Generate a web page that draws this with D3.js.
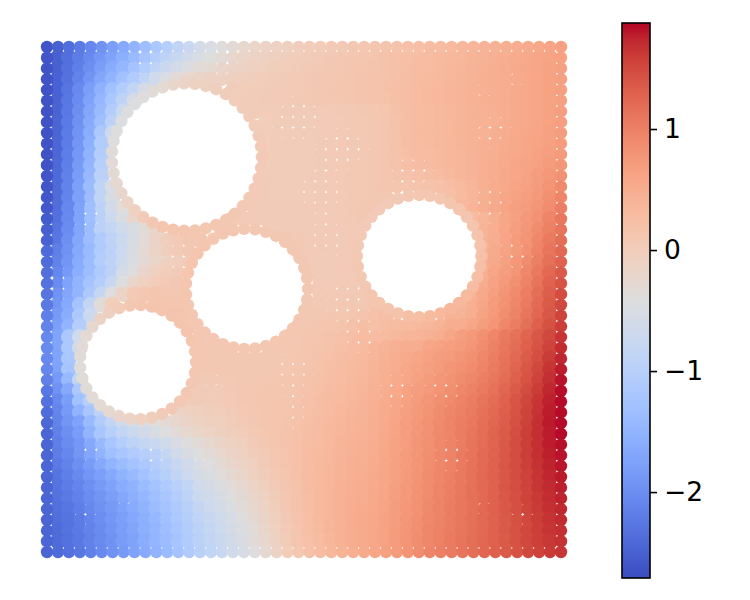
<!DOCTYPE html>
<html><head><meta charset="utf-8">
<script src="https://cdnjs.cloudflare.com/ajax/libs/d3/7.8.5/d3.min.js"></script>
<style>html,body{margin:0;padding:0;background:#fff}svg{display:block}</style>
</head><body><svg id="c" width="750" height="600"></svg>
<script>
// field values in hundredths, 48 rows (top to bottom) x 48 columns
const fieldRows = [
[-262,-250,-236,-222,-208,-194,-180,-165,-150,-134,-118,-102,-88,-74,-60,-49,-40,-31,-24,-18,-13,-9,-6,-3,0,2,4,6,8,10,12,15,18,21,23,26,29,32,35,38,41,44,47,50,53,56,60,64],
[-262,-250,-235,-220,-205,-189,-173,-157,-140,-123,-106,-90,-76,-63,-51,-41,-32,-24,-18,-13,-9,-5,-3,0,2,4,6,8,10,12,14,17,20,22,24,27,30,33,36,39,42,45,48,51,54,57,61,65],
[-263,-250,-234,-217,-199,-181,-163,-145,-126,-107,-89,-73,-59,-47,-37,-29,-22,-16,-12,-8,-5,-2,0,2,4,6,8,10,12,14,16,18,20,23,26,29,32,35,38,41,44,47,50,53,56,59,62,66],
[-263,-249,-232,-213,-192,-170,-150,-130,-110,-88,-66,-48,-34,-24,-17,-12,-9,-6,-4,-2,0,2,3,5,6,8,10,11,13,15,17,19,21,24,27,30,33,36,39,42,45,48,50,52,55,58,62,66],
[-264,-248,-228,-205,-180,-153,-130,-108,-84,-58,-34,-20,-12,-8,-5,-3,-2,-1,0,1,2,3,4,5,6,8,10,12,14,16,18,20,22,25,28,31,34,37,40,43,45,47,49,52,55,58,62,66],
[-264,-247,-226,-202,-175,-146,-118,-90,-58,-34,-20,-12,-8,-5,-3,-2,-1,0,1,2,3,4,5,6,7,8,10,11,13,15,17,19,22,25,28,31,34,37,40,43,45,47,49,52,55,58,62,66],
[-264,-246,-224,-199,-170,-140,-108,-72,-46,-25,-15,0,0,0,0,0,0,-1,0,1,2,2,3,3,3,4,5,6,7,9,11,14,20,25,27,30,33,36,39,42,44,46,49,52,55,58,62,67],
[-264,-245,-222,-196,-165,-132,-95,-58,0,0,0,0,0,0,0,0,0,0,0,0,0,1,1,2,2,3,4,5,6,7,9,13,19,24,27,30,33,36,39,42,44,46,49,52,55,59,63,67],
[-264,-245,-221,-193,-161,-115,-70,-45,0,0,0,0,0,0,0,0,0,0,0,0,0,1,1,2,2,3,4,5,6,7,9,13,19,24,27,30,33,36,39,42,44,47,50,53,56,60,64,68],
[-264,-244,-220,-190,-156,-108,-62,-40,0,0,0,0,0,0,0,0,0,0,0,0,0,1,1,2,2,3,4,5,6,7,9,13,19,24,27,30,33,36,39,42,45,48,51,54,57,61,65,70],
[-264,-243,-219,-188,-152,-105,-55,-38,0,0,0,0,0,0,0,0,0,0,0,0,0,1,1,2,2,3,4,5,6,7,9,13,18,23,26,29,32,35,38,41,45,48,52,55,59,63,67,72],
[-263,-242,-217,-185,-148,-100,-50,-34,0,0,0,0,0,0,0,0,0,0,0,0,0,1,1,2,2,3,4,5,6,7,9,13,18,23,26,29,32,35,38,41,45,49,53,57,61,65,70,76],
[-262,-241,-215,-182,-143,-95,-48,-32,0,0,0,0,0,0,0,0,0,0,2,1,1,1,1,2,2,3,4,5,6,7,9,12,15,18,21,24,28,32,37,41,46,50,54,58,62,68,75,82],
[-261,-240,-213,-179,-138,-88,-48,-30,0,0,0,0,0,0,0,0,0,0,4,4,3,1,1,2,2,3,4,5,6,7,9,12,12,14,16,18,21,25,32,38,46,51,55,60,65,71,80,90],
[-260,-238,-211,-177,-135,-88,-52,-30,-24,0,0,0,0,0,0,0,0,1,4,4,3,1,1,2,2,3,4,5,6,7,9,11,11,12,14,16,19,23,30,38,46,52,57,62,67,74,84,95],
[-258,-236,-208,-175,-133,-92,-62,-38,-24,-15,-12,0,0,0,0,0,1,2,4,4,3,3,3,3,3,4,4,5,6,8,10,14,0,0,0,0,0,0,34,40,47,54,60,66,71,78,88,102],
[-256,-233,-205,-172,-132,-95,-70,-48,-22,-14,-5,3,8,10,10,8,8,6,4,3,3,3,3,3,3,4,4,5,6,8,10,13,0,0,0,0,0,0,0,32,38,47,57,65,73,83,95,108],
[-252,-230,-202,-170,-135,-95,-82,-66,-52,-35,-20,-8,3,8,10,9,8,6,4,3,3,3,3,3,3,3,4,4,5,6,8,0,0,0,0,0,0,0,0,36,40,48,58,67,76,87,100,112],
[-248,-226,-198,-168,-135,-110,-90,-72,-52,-33,-16,-3,5,8,9,9,9,9,9,9,9,9,8,6,4,4,4,4,5,5,6,0,0,0,0,0,0,0,0,38,42,50,60,70,80,92,105,117],
[-240,-218,-194,-166,-140,-110,-92,-70,-50,-30,-15,-3,5,8,9,9,9,9,9,9,9,9,8,7,4,3,3,4,4,5,6,0,0,0,0,0,0,0,0,40,42,52,62,72,83,96,110,122],
[-238,-214,-190,-163,-138,-105,-90,-68,-48,-30,-18,-8,-2,4,9,9,9,9,9,9,9,9,9,8,4,3,3,4,4,5,0,0,0,0,0,0,0,0,0,0,44,54,64,75,87,101,115,128],
[-235,-208,-185,-160,-135,-112,-92,-60,-40,-20,-8,0,3,5,9,9,9,9,9,9,9,9,9,8,4,3,3,4,4,5,0,0,0,0,0,0,0,0,0,0,46,57,68,79,92,107,122,135],
[-232,-202,-175,-148,-125,-105,-78,-45,-22,-8,0,5,8,9,9,9,9,9,9,9,9,9,9,8,4,4,4,5,5,6,0,0,0,0,0,0,0,0,0,38,50,62,73,84,97,112,128,142],
[-228,-195,-170,-150,-115,-80,-42,-15,5,10,12,10,9,9,9,9,9,9,9,9,9,9,9,8,5,5,5,6,6,7,0,0,0,0,0,0,0,0,0,42,54,66,78,89,102,117,132,147],
[-224,-190,-165,-125,-85,-35,0,12,16,16,16,14,12,10,9,9,9,9,9,9,9,9,9,8,6,6,6,7,8,9,12,0,0,0,0,0,0,0,38,46,58,70,82,93,106,120,135,150],
[-218,-185,-160,-115,-72,-25,5,12,15,15,15,15,15,12,10,9,9,9,9,9,9,9,8,8,8,9,10,11,13,15,20,25,22,25,27,30,35,42,42,50,62,74,86,97,110,124,138,154],
[-212,-180,-150,-105,-65,-30,0,0,0,0,0,0,0,10,10,9,9,9,9,8,8,8,8,9,10,12,14,16,20,24,22,25,27,30,31,35,42,50,50,58,68,79,92,103,116,130,144,158],
[-207,-172,-115,-65,-50,0,0,0,0,0,0,0,0,0,8,8,8,8,8,8,8,8,9,10,12,14,17,20,24,28,28,30,33,37,40,44,50,57,67,74,84,94,105,115,126,138,150,165],
[-205,-172,-115,-65,-50,0,0,0,0,0,0,0,0,0,8,8,8,8,8,8,8,8,10,11,13,16,19,22,26,30,36,40,45,50,50,59,63,67,72,79,88,98,109,119,130,142,155,170],
[-205,-172,-118,-65,-50,0,0,0,0,0,0,0,0,0,8,8,8,8,8,8,8,9,11,12,15,18,21,24,28,32,38,43,48,53,58,63,68,72,77,84,92,102,112,122,134,146,160,174],
[-208,-175,-122,-70,-55,0,0,0,0,0,0,0,0,0,8,8,8,8,8,8,9,10,11,13,16,19,22,26,30,34,39,45,50,56,61,66,72,77,82,88,96,105,115,126,138,151,165,178],
[-215,-185,-140,-85,-60,0,0,0,0,0,0,0,0,0,6,6,6,7,8,9,10,11,12,14,17,20,24,28,32,36,41,47,53,59,65,70,76,81,87,93,101,109,119,130,142,155,169,182],
[-225,-195,-165,-115,-72,0,0,0,0,0,0,0,0,2,3,3,4,6,8,10,11,12,13,15,18,22,26,30,34,38,43,49,55,62,68,74,80,85,92,98,106,114,124,135,147,160,173,184],
[-232,-205,-180,-130,-100,-60,0,0,0,0,0,0,0,2,3,2,3,5,8,10,12,13,14,16,20,24,28,32,36,40,45,51,58,64,71,78,85,90,97,103,111,119,129,140,152,164,176,185],
[-238,-210,-185,-150,-120,-90,-60,-52,-48,0,0,-36,-15,-8,-4,-2,0,3,7,10,12,14,15,17,21,25,29,34,38,41,46,52,59,66,73,80,87,93,100,106,114,122,131,142,154,166,178,185],
[-242,-213,-190,-175,-140,-110,-85,-65,-55,-45,-38,-30,-22,-15,-10,-7,-4,1,5,9,12,14,16,18,22,26,31,36,40,42,47,53,60,67,75,82,89,95,102,108,116,124,133,144,156,168,179,185],
[-244,-215,-198,-182,-150,-120,-100,-85,-72,-62,-52,-42,-33,-25,-18,-13,-7,-3,2,7,11,14,17,20,24,28,33,38,41,43,48,54,61,68,76,83,90,96,103,110,118,126,135,146,158,169,178,185],
[-245,-218,-202,-188,-165,-140,-120,-102,-90,-82,-75,-65,-50,-40,-33,-25,-17,-10,-4,3,8,13,17,21,25,29,34,39,43,45,49,55,62,69,77,84,91,97,104,111,119,127,136,147,158,169,178,183],
[-245,-219,-208,-190,-170,-150,-132,-120,-110,-102,-95,-80,-62,-50,-41,-33,-24,-16,-8,-1,5,11,16,21,26,30,35,40,44,46,50,56,63,70,78,85,92,98,105,112,120,128,137,147,158,168,177,182],
[-245,-222,-212,-198,-182,-165,-150,-138,-125,-115,-105,-92,-78,-63,-49,-40,-31,-22,-13,-5,3,10,16,21,27,31,36,41,45,47,51,57,64,71,79,86,93,99,106,113,121,129,138,147,157,167,175,180],
[-245,-228,-217,-205,-190,-178,-165,-152,-140,-127,-113,-100,-85,-70,-57,-48,-39,-29,-19,-10,-1,7,14,20,26,32,37,42,46,48,52,58,65,72,80,87,94,100,107,114,122,129,138,147,156,165,174,179],
[-245,-229,-220,-210,-197,-185,-174,-162,-151,-138,-125,-112,-98,-84,-65,-56,-46,-36,-26,-15,-5,4,12,19,26,32,38,43,47,49,53,59,66,73,81,88,95,101,108,115,122,129,138,146,155,164,172,177],
[-245,-231,-223,-214,-202,-191,-180,-168,-157,-145,-132,-120,-105,-91,-72,-63,-53,-42,-31,-20,-9,1,10,18,25,32,38,44,48,50,54,60,67,74,82,89,96,102,109,115,122,129,137,145,154,162,170,175],
[-245,-234,-227,-218,-207,-196,-185,-174,-163,-151,-138,-126,-111,-97,-80,-70,-60,-48,-37,-25,-13,-2,8,17,24,31,38,44,49,51,55,61,68,75,83,90,97,103,109,115,122,129,137,145,153,161,168,173],
[-245,-236,-229,-221,-210,-200,-189,-178,-167,-155,-143,-131,-116,-102,-88,-76,-66,-54,-42,-29,-17,-5,6,15,23,31,38,44,49,52,56,62,69,76,84,91,97,103,109,115,122,129,136,144,152,159,166,171],
[-245,-238,-231,-223,-212,-202,-192,-181,-170,-158,-146,-134,-120,-106,-93,-81,-70,-58,-46,-33,-20,-8,4,14,22,30,37,44,49,52,56,63,70,78,85,92,98,104,110,116,122,129,136,143,151,158,165,169],
[-245,-239,-232,-225,-214,-204,-194,-183,-173,-161,-149,-137,-123,-109,-96,-84,-73,-62,-50,-37,-24,-11,2,12,21,29,36,43,49,53,56,63,71,79,86,93,99,105,111,117,123,129,135,143,150,157,163,167],
[-245,-240,-233,-226,-215,-205,-195,-185,-175,-163,-151,-139,-125,-111,-98,-86,-75,-64,-53,-40,-27,-14,0,11,20,28,35,42,48,52,57,64,72,80,88,95,101,106,112,118,124,130,136,143,150,156,162,165]
];
// holes in the domain (data units): centre x, centre y, rim radius
const holeX = [0.272, 0.389, 0.724, 0.177];
const holeY = [0.782, 0.521, 0.586, 0.376];
const holeR = [0.146, 0.119, 0.121, 0.113];
// field values around each hole rim, clockwise from east (hundredths)
const rimA = [4,4,4,4,5,6,8,9,10,11,11,12,12,12,10,3,-8,-15,-22,-27,-31,-34,-37,-40,-42,-44,-45,-44,-40,-35,-30,-22,-15,-10,-6,-3,-1,0,1,2,2,3,4];
const rimB = [8,8,9,10,11,11,11,10,10,10,10,10,10,10,10,10,11,12,13,14,14,13,12,11,10,10,9,9,9,9,9,9,9,8,8];
const rimC = [20,22,25,28,31,34,35,34,30,25,22,19,16,14,12,10,9,8,7,6,5,4,4,4,5,6,8,10,11,11,12,12,13,14,16,18];
const rimD = [10,10,9,8,7,6,3,-2,-8,-15,-20,-25,-30,-33,-35,-35,-35,-35,-34,-30,-24,-16,-7,1,8,13,15,15,15,15,15,13,11];
// mesh patches where the nodes are sparser: x, y, radius (data units)
const sparsePatches = [[.488,.855,.049],[.574,.796,.049],[.531,.717,.049],[.541,.618,.043],[.346,.964,.029],[.191,.964,.029],[.084,.667,.035],[.259,.588,.035],[.025,.529,.035],[.862,.836,.035],[.911,.935,.023],[.706,.747,.043],[.862,.687,.039],[.911,.588,.035],[.589,.499,.049],[.609,.430,.039],[.482,.360,.043],[.482,.271,.031],[.327,.341,.023],[.677,.321,.035],[.774,.321,.035],[.784,.192,.039],[.210,.192,.029],[.298,.182,.023],[.084,.202,.027],[.074,.073,.029],[.152,.103,.019],[.920,.073,.027],[.842,.093,.016],[.842,.905,.016]];
const colorTicks = [-2,-1,0,1];
const vMin = -2.71, vMax = 1.876;
const coolwarmStops = ["#3b4cc0","#445acc","#4d68d7","#5775e1","#6282ea","#6c8ef1","#779af7","#82a5fb","#8db0fe","#98b9ff","#a3c2ff","#aec9fd","#b8d0f9","#c2d5f4","#ccd9ee","#d5dbe6","#dddddd","#e5d8d1","#ecd3c5","#f1ccb9","#f5c4ad","#f7bba0","#f7b194","#f7a687","#f49a7b","#f18d6f","#ec7f63","#e57058","#de604d","#d55042","#cb3e38","#c0282f","#b40426"];

const svg = d3.select("#c");
const sx = d3.scaleLinear().domain([0,1]).range([47,561]);
const sy = d3.scaleLinear().domain([0,1]).range([552,47]);
const cmap = d3.scaleLinear()
  .domain(coolwarmStops.map((_,i)=>vMin+(vMax-vMin)*i/(coolwarmStops.length-1)))
  .range(coolwarmStops).interpolate(d3.interpolateRgb).clamp(true);

const nodeR = 6.2, innerR = 8, sparseR = 6.8;
const last = fieldRows.length-1;
const pxDist = (ax,ay,bx,by)=>Math.hypot(sx(ax)-sx(bx), sy(ay)-sy(by));
const inner = [], edge = [];
fieldRows.forEach((row,j)=>row.forEach((v,i)=>{
  const x=i/(row.length-1), y=1-j/last;
  const isEdge = i===0||j===0||i===row.length-1||j===last;
  const blocked = holeX.some((hx,h)=>pxDist(x,y,hx,holeY[h]) < holeR[h]*514 - nodeR + innerR);
  if(blocked) return;
  const sparse = sparsePatches.some(p=>pxDist(x,y,p[0],p[1])<p[2]*514);
  (isEdge?edge:inner).push({x,y,v:v/100,r:isEdge?nodeR:(sparse?sparseR:innerR)});
}));
const rims = [rimA,rimB,rimC,rimD].flatMap((vals,h)=>vals.map((v,k)=>{
  const a=2*Math.PI*k/vals.length;
  return {x:holeX[h]+holeR[h]*Math.cos(a), y:holeY[h]-holeR[h]*Math.sin(a), v:v/100, r:nodeR};
}));
svg.append("g").selectAll("circle").data(inner.concat(rims,edge)).join("circle")
  .attr("cx",d=>sx(d.x)).attr("cy",d=>sy(d.y)).attr("r",d=>d.r).attr("fill",d=>cmap(d.v));

// colour bar
const cbX=622,cbW=28;
const cy = d3.scaleLinear().domain([vMin,vMax]).range([578,23]);
const defs = svg.append("defs").append("linearGradient").attr("id","cb").attr("x1",0).attr("x2",0).attr("y1",1).attr("y2",0);
coolwarmStops.forEach((c,i)=>defs.append("stop").attr("offset",i/(coolwarmStops.length-1)).attr("stop-color",c));
svg.append("rect").attr("x",cbX).attr("y",cy(vMax)).attr("width",cbW).attr("height",cy(vMin)-cy(vMax)).attr("fill","url(#cb)").attr("stroke","#000").attr("stroke-width",1.6);
const axis = d3.axisRight(cy).tickValues(colorTicks).tickSize(7).tickPadding(7).tickFormat(d=>d<0?"\u2212"+Math.abs(d):String(d));
const g = svg.append("g").attr("transform",`translate(${cbX+cbW},0)`).call(axis);
g.select(".domain").remove();
g.selectAll("line").attr("stroke","#000").attr("stroke-width",1.6);
g.selectAll("text").attr("font-family","DejaVu Sans").attr("font-size",26.5).attr("fill","#000");
</script></body></html>
